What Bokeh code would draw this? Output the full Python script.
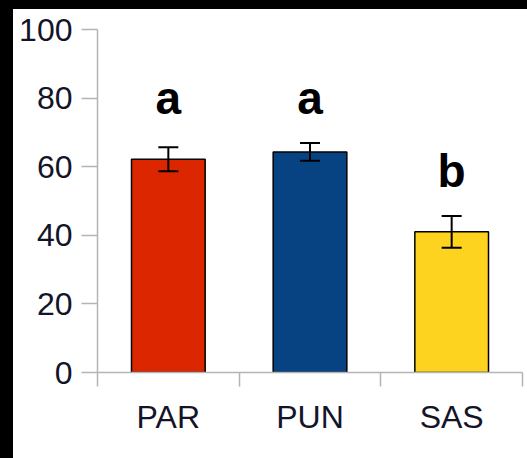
import numpy as np
from bokeh.plotting import figure
from bokeh.models import (ColumnDataSource, Range1d, LinearAxis,
                          FixedTicker, Whisker, TeeHead, CustomJSTickFormatter)
from bokeh.core.properties import value
from bokeh.embed import file_html
from bokeh.resources import INLINE

# ---- data ----
categories = ["PAR", "PUN", "SAS"]
means = [62.2, 64.3, 41.0]
errors = [3.5, 2.6, 4.6]
letters = ["a", "a", "b"]
colors = ["#dc2600", "#074383", "#fdd31f"]
y_ticks = [0, 20, 40, 60, 80, 100]

n = len(categories)
xpos = [i + 0.5 for i in range(n)]          # slot centres
upper = [m + e for m, e in zip(means, errors)]
lower = [m - e for m, e in zip(means, errors)]
group_top = {l: max(u for u, g in zip(upper, letters) if g == l) for l in set(letters)}
letter_y = [group_top[l] + 13.2 for l in letters]

src = ColumnDataSource(dict(x=xpos, mean=means, upper=upper, lower=lower,
                            color=colors, letter=letters, letter_y=letter_y))

FONT = "Liberation Sans"
GREY = "#b4b4b4"

p = figure(x_range=Range1d(0, n), y_range=Range1d(0, 100),
           width=514, height=449, output_backend="svg", toolbar_location=None,
           x_axis_location=None, y_axis_location="left",
           min_border_left=84, min_border_top=20, min_border_right=5, min_border_bottom=86)
p.outline_line_color = None
p.xgrid.visible = False
p.ygrid.visible = False
p.background_fill_color = "white"
p.border_fill_color = "white"

# y axis
ya = p.yaxis[0]
ya.ticker = FixedTicker(ticks=y_ticks)
ya.axis_line_color = GREY
ya.axis_line_width = 1.5
ya.major_tick_line_color = GREY
ya.major_tick_line_width = 1.5
ya.major_tick_out = 16
ya.major_tick_in = 0
ya.minor_tick_line_color = None
ya.major_label_text_font = FONT
ya.major_label_text_font_size = "32px"
ya.major_label_text_color = "#141428"
ya.major_label_standoff = 9

# x axis: ticks at category boundaries (no labels)
ta = LinearAxis(ticker=FixedTicker(ticks=list(range(n + 1))),
                formatter=CustomJSTickFormatter(code="return ''"))
ta.axis_line_color = GREY
ta.axis_line_width = 1.5
ta.major_tick_line_color = GREY
ta.major_tick_line_width = 1.5
ta.major_tick_out = 14
ta.major_tick_in = 0
ta.minor_tick_line_color = None
ta.major_label_standoff = 0
ta.major_label_text_font_size = "1px"
p.add_layout(ta, "below")

# x axis: category labels at slot centres
la = LinearAxis(ticker=FixedTicker(ticks=xpos),
                major_label_overrides={x: c for x, c in zip(xpos, categories)})
la.axis_line_color = None
la.major_tick_line_color = None
la.minor_tick_line_color = None
la.major_label_text_font = FONT
la.major_label_text_font_size = "32px"
la.major_label_text_color = "#141428"
la.major_label_standoff = 6
p.add_layout(la, "below")

# bars
p.vbar(x="x", top="mean", bottom=0, width=0.52, source=src,
       fill_color="color", line_color="black", line_width=1.5)

# error bars (drawn above the bars)
w = Whisker(source=src, base="x", upper="upper", lower="lower",
            line_color="black", line_width=2, level="overlay",
            upper_head=TeeHead(size=20, line_color="black", line_width=2),
            lower_head=TeeHead(size=20, line_color="black", line_width=2))
p.add_layout(w)

# significance letters
p.text(x="x", y="letter_y", text="letter", source=src,
       text_font=value(FONT), text_font_style="bold", text_font_size="46px",
       text_align="center", text_baseline="middle", text_color="black")

html = file_html(p, INLINE)
html = html.replace("</head>",
                    "<style>html{background:#fff;}"
                    "body{margin:0;padding:0;background:#fff;min-height:100vh;box-sizing:border-box;"
                    "border-top:9px solid #000;border-left:13px solid #000;}</style></head>", 1)
open("out.html", "w").write(html)
